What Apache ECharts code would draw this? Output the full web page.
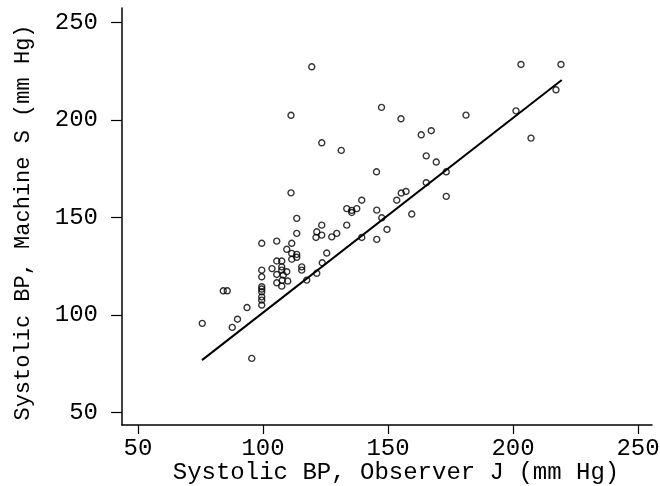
<!DOCTYPE html>
<html>
<head>
<meta charset="utf-8">
<script src="https://cdn.jsdelivr.net/npm/echarts@6/dist/echarts.min.js"></script>
<style>html,body{margin:0;padding:0;background:#fff;}#c{width:660px;height:486px;}</style>
</head>
<body>
<div id="c"></div>
<script>
// Systolic BP, Observer J (x) vs Machine S (y), mm Hg
var observerJ = [75.7,84.1,85.7,87.7,89.8,93.6,95.5,99.5,99.5,99.5,99.5,99.5,99.5,99.5,99.5,99.5,
  103.6,105.5,105.5,105.5,105.5,107.5,107.7,107.5,107.5,107.5,108.1,109.5,109.9,109.5,111.5,111.5,113.5,113.5,111.5,
  111.2,111.2,113.5,113.5,115.5,115.5,117.5,119.5,121.5,121.5,121.2,123.5,123.5,123.5,123.7,125.5,127.5,129.5,131.3,
  133.5,133.5,135.5,135.5,137.5,139.5,139.5,145.5,145.4,145.5,147.4,147.5,149.6,153.5,155.3,157.2,155.2,159.5,
  163.3,165.3,165.3,167.3,169.3,173.3,173.3,181.2,201.2,203.2,207.2,217.2,219.2];
var machineS = [95.6,112.3,112.3,93.5,97.7,103.7,77.6,105,107.5,109.2,111.8,113.2,114.4,119.5,122.9,136.7,
  123.7,116.4,120.7,127.6,137.8,114.7,117.7,122.9,124.6,127.6,120.4,122.1,117.3,133.6,136.7,131.5,131,129.5,128.5,
  162.6,202.4,141.8,149.5,124.6,122.9,117.8,227.3,121.3,142.6,139.7,146,140.9,188.3,126.7,131.7,140,141.8,184.4,
  146,154.5,153.6,152.5,154.5,158.8,139.7,153.7,173.4,138.7,206.5,149.8,143.8,158.8,162.5,163.3,200.6,151.7,
  192.4,181.6,167.8,194.5,178.4,173.4,160.8,202.5,204.7,228.5,190.7,215.5,228.5];
// fitted line end points
var fitX = [75.6, 219.5];
var fitY = [76.7, 220.5];
var tickValues = [50, 100, 150, 200, 250];

var pts = observerJ.map(function (x, i) { return [x, machineS[i]]; });
var fit = fitX.map(function (x, i) { return [x, fitY[i]]; });

var FONT = 'Liberation Mono';
var chart = echarts.init(document.getElementById('c'), null, {renderer: 'canvas'});
chart.setOption({
  animation: false,
  backgroundColor: '#fff',
  grid: {left: 122, right: 8, top: 8, bottom: 61, containLabel: false, outerBoundsMode: 'none'},
  xAxis: {
    type: 'value', min: 43.6, max: 255.6,
    name: 'Systolic BP, Observer J (mm Hg)',
    nameLocation: 'middle', nameGap: 36, nameMoveOverlap: false,
    nameTextStyle: {fontFamily: FONT, fontSize: 24, color: '#000', padding: [0, 0, 0, 18]},
    axisLine: {show: true, onZero: false, lineStyle: {color: '#000', width: 1.5}},
    axisTick: {show: true, length: 9, customValues: tickValues, lineStyle: {color: '#000', width: 1.2}},
    axisLabel: {customValues: tickValues, fontFamily: FONT, fontSize: 24, color: '#000', margin: 12},
    splitLine: {show: false}
  },
  yAxis: {
    type: 'value', min: 43.4, max: 257.5,
    name: 'Systolic BP, Machine S (mm Hg)',
    nameLocation: 'middle', nameGap: 88, nameMoveOverlap: false,
    nameTextStyle: {fontFamily: FONT, fontSize: 22, color: '#000', padding: [0, 12, 0, 0]},
    axisLine: {show: true, onZero: false, lineStyle: {color: '#000', width: 1.5}},
    axisTick: {show: true, length: 11, customValues: tickValues, lineStyle: {color: '#000', width: 1.2}},
    axisLabel: {customValues: tickValues, fontFamily: FONT, fontSize: 24, color: '#000', margin: 24},
    splitLine: {show: false}
  },
  series: [
    {
      type: 'scatter', data: pts, symbol: 'circle', symbolSize: 6,
      itemStyle: {color: 'rgba(0,0,0,0)', borderColor: '#000', borderWidth: 1.4}
    },
    {
      type: 'line', data: fit, symbol: 'none',
      lineStyle: {color: '#000', width: 2}
    }
  ]
});
</script>
</body>
</html>
